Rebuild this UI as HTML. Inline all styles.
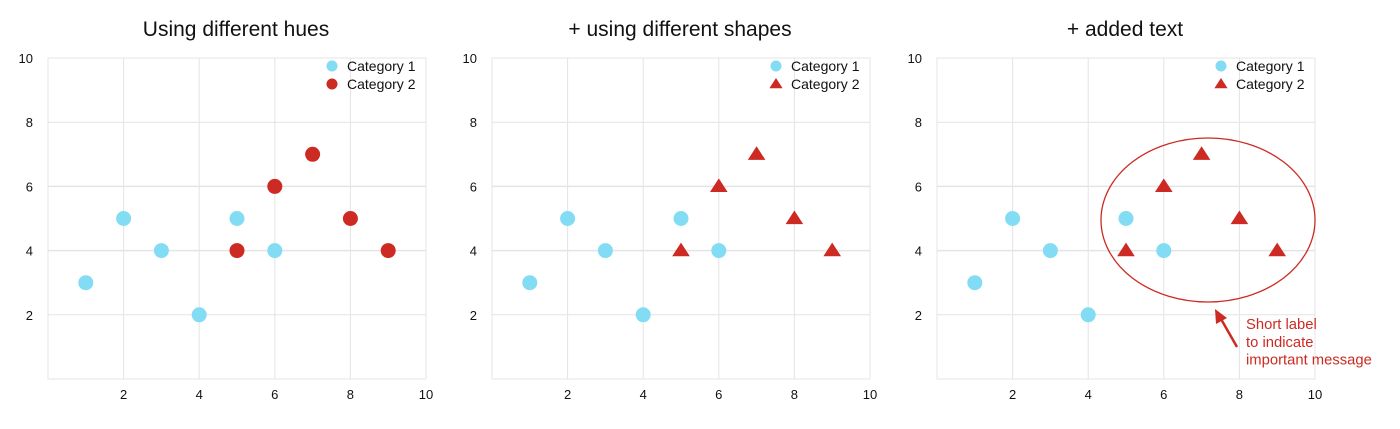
<!DOCTYPE html>
<html><head><meta charset="utf-8"><style>
body{margin:0;background:#fff;}
svg{display:block;font-family:"Liberation Sans",sans-serif;}
</style></head><body>
<svg id="c" width="1400" height="429" viewBox="0 0 1400 429"></svg>
<script>
const titles=["Using different hues","+ using different shapes","+ added text"];
const ticks=[2,4,6,8,10];
const cat1X=[1,2,3,4,5,6];
const cat1Y=[3,5,4,2,5,4];
const cat2X=[5,6,7,8,9];
const cat2Y=[4,6,7,5,4];
const legendLabels=["Category 1","Category 2"];
const noteLines=["Short label","to indicate","important message"];
const NS="http://www.w3.org/2000/svg";
const svg=document.getElementById('c');
function mk(t,a,p){const e=document.createElementNS(NS,t);for(const k in a)e.setAttribute(k,a[k]);(p||svg).appendChild(e);return e;}
const panelX0=[48,492,937];
const W=378,T=58,B=379;
const BLUE="#82dcf3",RED="#cc2a22";
panelX0.forEach((x0,pi)=>{
  const g=mk('g',{});
  
  
  const sx=v=>x0+v/10*W, sy=v=>B-v/10*(B-T);
  const tt=mk('text',{x:x0+W/2-1,y:36,'text-anchor':'middle','font-size':21,fill:'#111'},g);
  tt.textContent=titles[pi];
  
  
  mk('rect',{x:x0,y:T,width:W,height:B-T,fill:'none',stroke:'#e6e6e6','stroke-width':1},g);
  ticks.forEach(t=>{
    const gx=mk('line',{x1:sx(t),x2:sx(t),y1:T,y2:B,stroke:'#e4e4e4','stroke-width':1},g);
    
    
    const gy=mk('line',{x1:x0,x2:x0+W,y1:sy(t),y2:sy(t),stroke:'#e4e4e4','stroke-width':t==4||t==6?1.5:1},g);
    
    
    const xl=mk('text',{x:sx(t),y:399,'text-anchor':'middle','font-size':13,fill:'#111'},g);
    xl.textContent=t;
    
    
    const yl=mk('text',{x:x0-15,y:sy(t)+5,'text-anchor':'end','font-size':13,fill:'#111'},g);
    yl.textContent=t;
    
    
  });
  cat1X.forEach((v,i)=>{
    const c=mk('circle',{cx:sx(v),cy:sy(cat1Y[i]),r:7.5,fill:BLUE},g);
    
    
  });
  const tri=(cx,cy,s)=>`${cx},${cy-s} ${cx-s*1.1},${cy+s*0.7} ${cx+s*1.1},${cy+s*0.7}`;
  cat2X.forEach((v,i)=>{
    let m;
    if(pi==0) m=mk('circle',{cx:sx(v),cy:sy(cat2Y[i]),r:7.5,fill:RED},g);
    else m=mk('polygon',{points:tri(sx(v),sy(cat2Y[i]),8),fill:RED},g);
    
    
  });
  legendLabels.forEach((l,i)=>{
    const ly=66+i*18, lx=x0+284;
    let m;
    if(i==0||pi==0) m=mk('circle',{cx:lx,cy:ly,r:5.5,fill:i==0?BLUE:RED},g);
    else m=mk('polygon',{points:tri(lx,ly,6),fill:RED},g);
    
    
    const t=mk('text',{x:lx+15,y:ly+5,'font-size':14,fill:'#111'},g);
    t.textContent=l;
    
    
  });
  if(pi==2){
    const e=mk('ellipse',{cx:1208,cy:220,rx:107,ry:82,fill:'none',stroke:RED,'stroke-width':1.3},g);
    
    
    const a=mk('line',{x1:1237,y1:347,x2:1221,y2:319,stroke:RED,'stroke-width':2.5},g);
    
    
    const h=mk('polygon',{points:'1215,309 1227,318 1216,324',fill:RED},g);
    
    
    noteLines.forEach((l,i)=>{
      const t=mk('text',{x:1246,y:329+i*17.8,'font-size':14.8,fill:RED},g);
      t.textContent=l;
      
      
    });
  }
});
</script>
</body></html>
